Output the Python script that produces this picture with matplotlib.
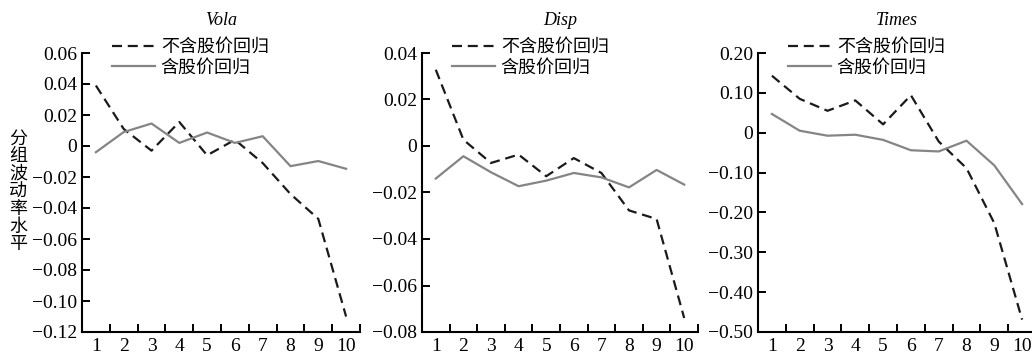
import matplotlib
matplotlib.use("Agg")
import matplotlib.pyplot as plt
import numpy as np
from matplotlib.ticker import FixedLocator, FuncFormatter, NullFormatter

plt.rcParams["font.family"] = ["Liberation Serif", "Noto Sans CJK SC"]

groups = list(range(1, 11))
legend_labels = ["不含股价回归", "含股价回归"]
panel_titles = ["Vola", "Disp", "Times"]
y_label = "分组波动率水平"

vola_no_price = [0.039, 0.011, -0.003, 0.0155, -0.006, 0.004, -0.011, -0.031, -0.047, -0.110]
vola_price = [-0.004, 0.009, 0.0145, 0.002, 0.0087, 0.002, 0.0063, -0.013, -0.0097, -0.0147]
disp_no_price = [0.0328, 0.0027, -0.0073, -0.0037, -0.013, -0.0052, -0.0116, -0.0277, -0.0314, -0.074]
disp_price = [-0.014, -0.0044, -0.0113, -0.0173, -0.0149, -0.0116, -0.0135, -0.0178, -0.0103, -0.0166]
times_no_price = [0.143, 0.085, 0.055, 0.081, 0.021, 0.094, -0.022, -0.089, -0.227, -0.469]
times_price = [0.047, 0.005, -0.0075, -0.005, -0.018, -0.044, -0.047, -0.020, -0.082, -0.179]

y_limits = [(-0.12, 0.06), (-0.08, 0.04), (-0.50, 0.20)]
y_steps = [0.02, 0.02, 0.10]

W, H = 1032, 354
fig = plt.figure(figsize=(W / 100, H / 100), dpi=100)

# axes boxes in pixels: left, right
boxes = [(82, 360), (422, 698), (758, 1036)]
top_px, bottom_px = 53, 332

series = [(vola_no_price, vola_price), (disp_no_price, disp_price), (times_no_price, times_price)]


def fmt(v, _pos):
    if abs(v) < 1e-9:
        return "0"
    return f"{v:.2f}".replace("-", "\u2212")


for (l, r), title, (s_no, s_yes), ylim, step in zip(boxes, panel_titles, series, y_limits, y_steps):
    ax = fig.add_axes([l / W, 1 - bottom_px / H, (r - l) / W, (bottom_px - top_px) / H])
    ax.plot(groups, s_no, color="#1a1a1a", lw=1.6, linestyle=(0, (4.5, 2.6)), label=legend_labels[0])
    ax.plot(groups, s_yes, color="#858585", lw=1.6, label=legend_labels[1])
    ax.set_xlim(0.5, 10.5)
    ax.set_ylim(*ylim)
    yt = np.round(np.arange(ylim[0], ylim[1] + step / 2, step), 4)
    ax.yaxis.set_major_locator(FixedLocator(yt))
    ax.yaxis.set_major_formatter(FuncFormatter(fmt))
    ax.xaxis.set_major_locator(FixedLocator(np.arange(0.5, 11, 1.0)))
    ax.xaxis.set_major_formatter(NullFormatter())
    ax.xaxis.set_minor_locator(FixedLocator(groups))
    ax.xaxis.set_minor_formatter(FuncFormatter(lambda v, p: f"{int(round(v))}"))
    ax.tick_params(axis="both", which="major", direction="in", length=5.5, width=1.4, labelsize=14, pad=3.5)
    ax.tick_params(axis="x", which="minor", length=0, labelsize=14, pad=4)
    for side in ("top", "right"):
        ax.spines[side].set_visible(False)
    for side in ("left", "bottom"):
        ax.spines[side].set_linewidth(1.5)
    ax.text(0.5, 1 + (top_px - 20) / (bottom_px - top_px), title, transform=ax.transAxes,
            ha="center", va="center", fontsize=13, style="italic")
    ax.legend(loc="upper left", bbox_to_anchor=(30 / (r - l), 1.05), frameon=False,
              fontsize=13, handlelength=2.4, handletextpad=0.3, labelspacing=0.2,
              borderpad=0, borderaxespad=0)

fig.text(18 / W, 1 - 192 / H, "\n".join(y_label), ha="center", va="center",
         fontsize=13, linespacing=1.05)

fig.savefig("out.png", dpi=100)
